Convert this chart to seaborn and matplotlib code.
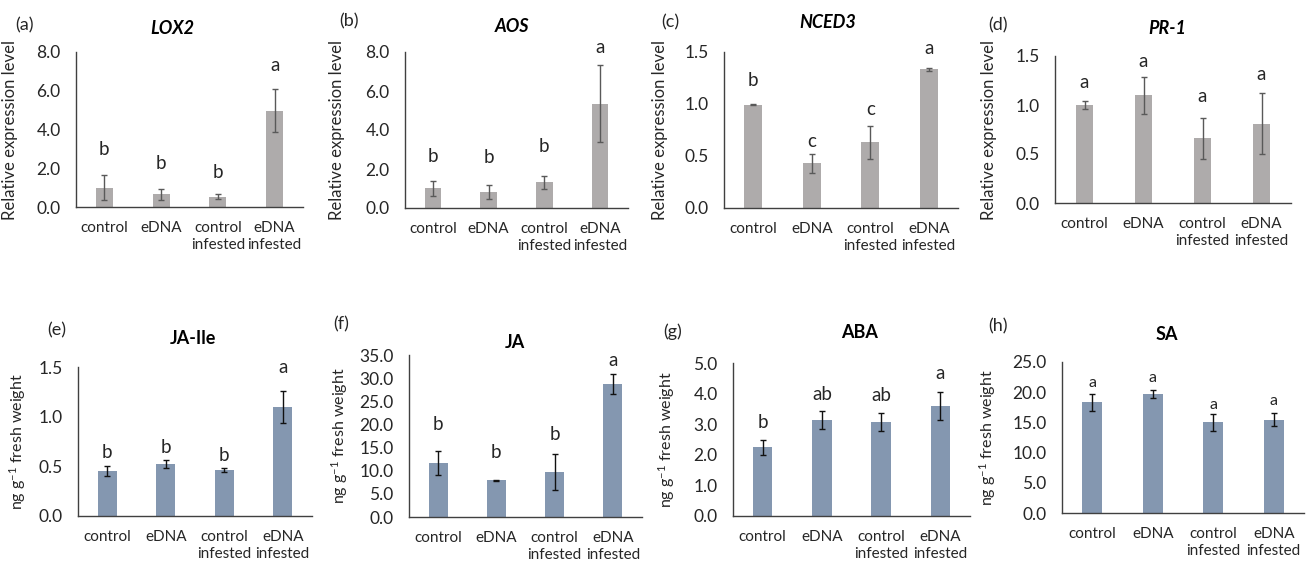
import matplotlib
matplotlib.use("Agg")
import matplotlib.pyplot as plt
import numpy as np
import pandas as pd
import seaborn as sns

# ---------------- data ----------------
categories = ["control", "eDNA", "control\ninfested", "eDNA\ninfested"]

lox2 = [1.00, 0.65, 0.54, 4.98]
lox2_err = [0.65, 0.30, 0.12, 1.09]
lox2_sig = ["b", "b", "b", "a"]

aos = [1.01, 0.82, 1.32, 5.35]
aos_err = [0.37, 0.34, 0.34, 1.97]
aos_sig = ["b", "b", "b", "a"]

nced3 = [0.995, 0.43, 0.63, 1.335]
nced3_err = [0.006, 0.09, 0.16, 0.014]
nced3_sig = ["b", "c", "c", "a"]

pr1 = [1.00, 1.10, 0.66, 0.81]
pr1_err = [0.045, 0.19, 0.21, 0.31]
pr1_sig = ["a", "a", "a", "a"]

jaile = [0.455, 0.52, 0.465, 1.10]
jaile_err = [0.05, 0.04, 0.023, 0.16]
jaile_sig = ["b", "b", "b", "a"]

ja = [11.7, 7.9, 9.7, 28.8]
ja_err = [2.6, 0.2, 3.95, 2.2]
ja_sig = ["b", "b", "b", "a"]

aba = [2.24, 3.13, 3.08, 3.60]
aba_err = [0.26, 0.30, 0.30, 0.46]
aba_sig = ["b", "ab", "ab", "a"]

sa = [18.3, 19.7, 15.0, 15.45]
sa_err = [1.4, 0.65, 1.45, 1.05]
sa_sig = ["a", "a", "a", "a"]

titles = ["LOX2", "AOS", "NCED3", "PR-1", "JA-Ile", "JA", "ABA", "SA"]
panel_tags = ["(a)", "(b)", "(c)", "(d)", "(e)", "(f)", "(g)", "(h)"]
ylabels = ["Relative expression level"] * 4 + ["ng g$^{\\mathregular{-1}}$ fresh weight"] * 4
yticks_list = [
    [0, 2, 4, 6, 8], [0, 2, 4, 6, 8], [0, 0.5, 1.0, 1.5], [0, 0.5, 1.0, 1.5],
    [0, 0.5, 1.0, 1.5], [0, 5, 10, 15, 20, 25, 30, 35], [0, 1, 2, 3, 4, 5],
    [0, 5, 10, 15, 20, 25],
]

values = [lox2, aos, nced3, pr1, jaile, ja, aba, sa]
errors = [lox2_err, aos_err, nced3_err, pr1_err, jaile_err, ja_err, aba_err, sa_err]
sigs = [lox2_sig, aos_sig, nced3_sig, pr1_sig, jaile_sig, ja_sig, aba_sig, sa_sig]

# ---------------- style / layout ----------------
W, H = 1306, 564
sns.set_theme(style="white")
plt.rcParams["font.family"] = ["Lato", "DejaVu Sans"]
plt.rcParams["mathtext.fontset"] = "custom"
plt.rcParams["mathtext.rm"] = "Lato"
plt.rcParams["mathtext.it"] = "Lato:italic"
plt.rcParams["mathtext.bf"] = "Lato:bold"

gray_bar = "#AEABAB"
blue_bar = "#8497B0"
axis_col = "#404040"
text_col = "#262626"

# axes boxes in pixels: x0, ytop, x1, ybottom
boxes = [
    (76, 52, 303, 207), (405, 52, 628, 208), (724, 52, 958, 208), (1055, 56, 1291, 203),
    (78, 367, 312, 516), (409, 355, 642, 517), (733, 363, 970, 516), (1062, 362, 1304, 513),
]
title_pos = [(172, 28), (512, 27), (828, 22), (1167, 28),
             (193, 338), (515, 342), (860, 333), (1167, 335)]
tag_pos = [(25, 25), (349, 21), (670, 22), (998, 25),
           (57, 330), (341, 324), (673, 332), (998, 326)]
ylabel_x = [18, 345, 668, 997, 28, 350, 677, 998]
letter_gap_px = [
    [20, 20, 16, 18], [19, 22, 24, 12], [18, 7, 11, 14], [13, 10, 16, 13],
    [8, 7, 7, 18], [21, 22, 14, 8], [12, 11, 12, 13], [7, 8, 5, 8],
]
letter_size = [13.5, 13.5, 13.5, 13.5, 13.5, 13.5, 13.5, 11.5]

fig = plt.figure(figsize=(W / 100, H / 100), dpi=100)

for i in range(8):
    x0, y0, x1, y1 = boxes[i]
    ax = fig.add_axes([x0 / W, 1 - y1 / H, (x1 - x0) / W, (y1 - y0) / H])
    top = i < 4
    color = gray_bar if top else blue_bar
    ecol = "#595959" if top else "#111111"
    df = pd.DataFrame({"group": categories, "value": values[i]})
    sns.barplot(data=df, x="group", y="value", color=color, width=0.3 if top else 0.33,
                saturation=1, errorbar=None, edgecolor="none", ax=ax)
    xs = np.arange(len(categories))
    ax.errorbar(xs, values[i], yerr=errors[i], fmt="none", ecolor=ecol,
                elinewidth=1.0, capsize=2.2, capthick=1.0)
    yt = yticks_list[i]
    ax.set_ylim(0, yt[-1])
    ax.set_xlim(-0.5, len(categories) - 0.5)
    ax.set_yticks(yt)
    ax.set_yticklabels([f"{t:.1f}" for t in yt])
    ax.tick_params(axis="y", length=0, pad=11, labelsize=12.5, labelcolor=text_col)
    ax.tick_params(axis="x", length=0, pad=10, labelsize=11, labelcolor=text_col)
    for lab in ax.get_xticklabels():
        lab.set_linespacing(1.3)
    ax.set_xlabel("")
    ax.set_ylabel(ylabels[i], fontsize=12 if top else 11.5, color=text_col)
    ax.yaxis.set_label_coords((ylabel_x[i] - x0) / (x1 - x0), 0.5)
    for side in ["top", "right"]:
        ax.spines[side].set_visible(False)
    for side in ["left", "bottom"]:
        ax.spines[side].set_color(axis_col)
        ax.spines[side].set_linewidth(1.0)
    # significance letters
    for j, (v, e, s) in enumerate(zip(values[i], errors[i], sigs[i])):
        ax.annotate(s, (xs[j], v + e), xytext=(0, letter_gap_px[i][j] * 0.72),
                    textcoords="offset points", ha="center", va="baseline",
                    fontsize=letter_size[i], color=text_col)
    tx, ty = title_pos[i]
    fig.text(tx / W, 1 - ty / H, titles[i], ha="center", va="center",
             fontsize=13, fontweight="bold", style="italic" if top else "normal",
             color="black")
    gx, gy = tag_pos[i]
    fig.text(gx / W, 1 - gy / H, panel_tags[i], ha="center", va="center",
             fontsize=13, color=text_col)

fig.savefig("out.png", dpi=100, facecolor="white")
